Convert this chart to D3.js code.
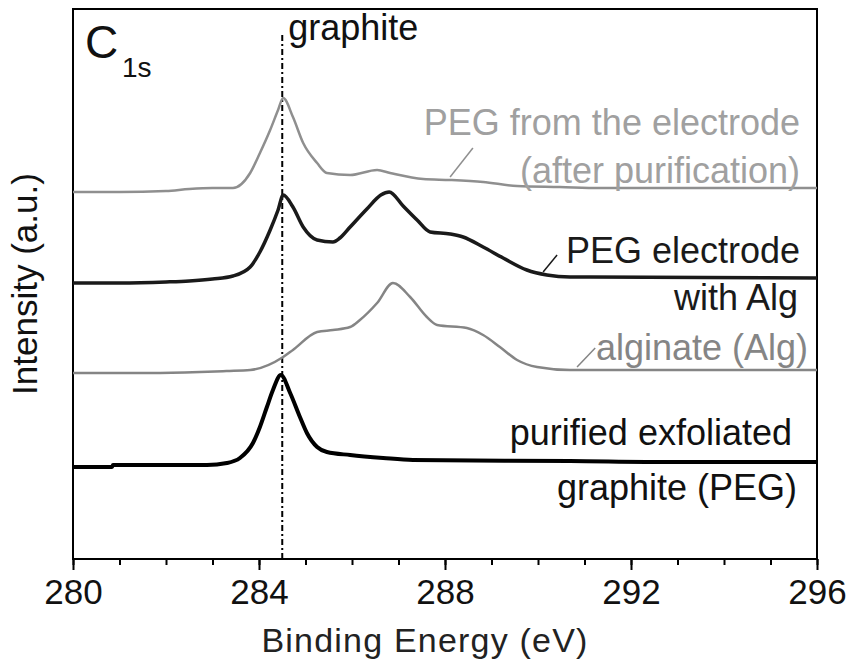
<!DOCTYPE html>
<html>
<head>
<meta charset="utf-8">
<script src="https://cdn.jsdelivr.net/npm/d3@7"></script>
<style>
  html, body { margin: 0; padding: 0; background: #fff; }
  svg { display: block; font-family: "Liberation Sans", Arial, sans-serif; }
</style>
</head>
<body>
<div id="chart"></div>
<script>
'use strict';

// C1s XPS spectra, stacked (intensity offsets already included).

const xTicks = [280, 284, 288, 292, 296];
const graphitePos = 284.5;

// PEG from the electrode (after purification)
const energyAfterPur = [280, 281, 282, 282.5, 283, 283.44, 283.81, 284.02, 284.24, 284.41,
  284.52, 284.73, 284.95, 285.25, 285.46, 285.96, 286.54, 286.82, 287.53, 288.11,
  288.82, 289.55, 290.47, 291.33, 296];
const intAfterPur = [367, 367, 368, 370, 371, 371, 386, 406, 429, 449,
  461, 442, 416, 396, 386, 384, 389, 386, 380, 379,
  377, 373, 372, 371, 371];

// PEG electrode with Alg
const energyPegAlg = [280, 281, 282, 282.5, 283, 283.44, 283.81, 284.02, 284.24, 284.41,
  284.52, 284.73, 284.95, 285.25, 285.59, 285.74, 285.96, 286.32, 286.62, 286.8,
  287.10, 287.40, 287.68, 288.11, 288.39, 288.82, 289.25, 289.76, 290.19, 290.69,
  291.12, 296];
const intPegAlg = [276, 276, 277, 278, 280, 283, 292, 307, 329, 349,
  364, 352, 332, 319, 317, 321, 332, 350, 364, 367,
  353, 339, 327, 325, 322, 312, 301, 289, 284, 282,
  282, 281];

// alginate (Alg)
const energyAlg = [280, 281.66, 282.73, 283.3, 283.81, 284.52, 284.73, 285.25, 285.59, 285.96,
  286.17, 286.54, 286.88, 287.25, 287.61, 287.83, 288.47, 288.82, 289.18, 289.55,
  289.98, 290.69, 296];
const intAlg = [186, 186, 187, 188, 189, 202, 209, 227, 229, 232,
  239, 256, 276, 262, 242, 234, 231, 224, 212, 199,
  192, 189, 189];

// purified exfoliated graphite (PEG)
const energyPurified = [280, 280.84, 280.86, 282.88, 283.31, 283.59, 283.87, 284.02, 284.17, 284.30,
  284.47, 284.67, 284.88, 285.03, 285.25, 285.46, 285.96, 286.67, 287.31, 290.69,
  292.90, 296];
const intPurified = [92, 92, 94, 94, 96, 101, 116, 132, 152, 169,
  184, 166, 142, 126, 112, 107, 104, 101, 99, 98,
  97, 97];

const W = 849, H = 664;
const plot = { left: 73, right: 817, top: 9, bottom: 559 };
const FONT = 36;

const svg = d3.select('#chart').append('svg')
  .attr('width', W).attr('height', H);

const x = d3.scaleLinear().domain([280, 296]).range([plot.left, plot.right]);
const y = d3.scaleLinear().domain([0, 550]).range([plot.bottom, plot.top]);

const zip = (xs, ys) => xs.map((e, i) => [e, ys[i]]);
const line = d3.line().x(d => x(d[0])).y(d => y(d[1])).curve(d3.curveMonotoneX);

// ----- axes -----
const gx = svg.append('g').attr('transform', `translate(0,${plot.bottom})`);
gx.call(d3.axisBottom(x).tickValues(d3.range(280, 297, 1)).tickSize(6).tickFormat(''))
  .call(g => g.select('.domain').remove())
  .call(g => g.selectAll('line').attr('stroke', '#000').attr('stroke-width', 2));

const gxMajor = svg.append('g').attr('transform', `translate(0,${plot.bottom})`);
gxMajor.call(d3.axisBottom(x).tickValues(xTicks).tickSize(11).tickPadding(9).tickFormat(d3.format('d')))
  .call(g => g.select('.domain').remove())
  .call(g => g.selectAll('line').attr('stroke', '#000').attr('stroke-width', 2))
  .call(g => g.selectAll('text')
    .attr('font-size', 35).attr('fill', '#111')
    .attr('font-family', '"Liberation Sans", Arial, sans-serif'));

// frame
svg.append('rect')
  .attr('x', plot.left).attr('y', plot.top)
  .attr('width', plot.right - plot.left).attr('height', plot.bottom - plot.top)
  .attr('fill', 'none').attr('stroke', '#000').attr('stroke-width', 2);

// graphite reference line
svg.append('line')
  .attr('x1', x(graphitePos)).attr('x2', x(graphitePos))
  .attr('y1', 35).attr('y2', plot.bottom)
  .attr('stroke', '#000').attr('stroke-width', 2)
  .attr('stroke-dasharray', '6,3,2,3');

// ----- spectra -----
const series = [
  { data: zip(energyAfterPur, intAfterPur), color: '#8f8f8f', width: 2.5 },
  { data: zip(energyPegAlg, intPegAlg), color: '#1a1a1a', width: 3.5 },
  { data: zip(energyAlg, intAlg), color: '#858585', width: 2.5 },
  { data: zip(energyPurified, intPurified), color: '#000', width: 4 }
];

svg.append('g').selectAll('path').data(series).join('path')
  .attr('d', d => line(d.data))
  .attr('fill', 'none')
  .attr('stroke', d => d.color)
  .attr('stroke-width', d => d.width)
  .attr('stroke-linejoin', 'round');

// leader lines (eV, intensity)
const leaders = [
  { from: [288.11, 382], to: [288.60, 411], color: '#8f8f8f' },
  { from: [290.11, 287], to: [290.41, 304], color: '#1a1a1a' },
  { from: [290.84, 192], to: [291.23, 211], color: '#858585' }
];
svg.append('g').selectAll('line').data(leaders).join('line')
  .attr('x1', d => x(d.from[0])).attr('y1', d => y(d.from[1]))
  .attr('x2', d => x(d.to[0])).attr('y2', d => y(d.to[1]))
  .attr('stroke', d => d.color).attr('stroke-width', 1.5);

// ----- labels -----
const labels = [
  { text: 'PEG from the electrode', x: 800, y: 135, color: '#a0a0a0' },
  { text: '(after purification)', x: 800, y: 183, color: '#a0a0a0' },
  { text: 'PEG electrode', x: 800, y: 263, color: '#1a1a1a' },
  { text: 'with Alg', x: 798, y: 310, color: '#1a1a1a' },
  { text: 'alginate (Alg)', x: 808, y: 360, color: '#858585' },
  { text: 'purified exfoliated', x: 792, y: 445, color: '#111' },
  { text: 'graphite (PEG)', x: 797, y: 500, color: '#111' }
];
svg.append('g').selectAll('text').data(labels).join('text')
  .attr('x', d => d.x).attr('y', d => d.y)
  .attr('text-anchor', 'end')
  .attr('font-size', FONT)
  .attr('fill', d => d.color)
  .text(d => d.text);

svg.append('text')
  .attr('x', x(graphitePos) + 6).attr('y', 40)
  .attr('font-size', FONT).attr('fill', '#111')
  .text('graphite');

// C1s
svg.append('text').attr('x', 85).attr('y', 58)
  .attr('font-size', 46).attr('fill', '#111').text('C');
svg.append('text').attr('x', 122).attr('y', 77)
  .attr('font-size', 28).attr('fill', '#111').text('1s');

// axis titles
svg.append('text')
  .attr('x', 425).attr('y', 652)
  .attr('text-anchor', 'middle')
  .attr('font-size', 34).attr('letter-spacing', 1.2)
  .attr('fill', '#222')
  .text('Binding Energy (eV)');

svg.append('text')
  .attr('transform', `translate(37,${(plot.top + plot.bottom) / 2}) rotate(-90)`)
  .attr('text-anchor', 'middle')
  .attr('font-size', 35).attr('fill', '#111')
  .text('Intensity (a.u.)');
</script>
</body>
</html>
